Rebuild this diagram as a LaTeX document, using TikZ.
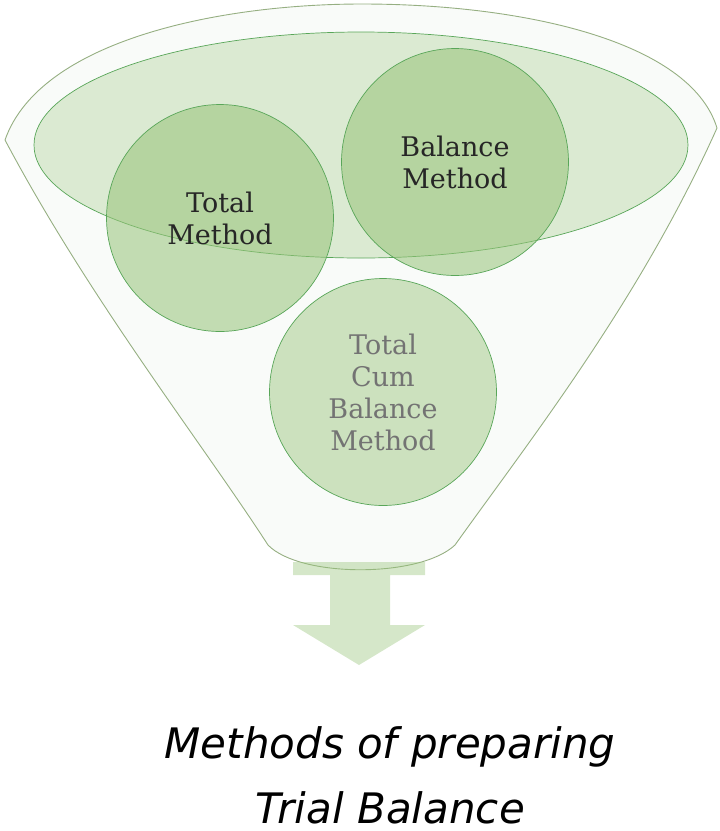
\documentclass[tikz,border=0pt]{standalone}
\usepackage{fontspec}
\setmainfont{DejaVu Sans}
\newfontfamily\slab{DejaVu Serif}
\begin{document}
\begin{tikzpicture}[x=1pt,y=-1pt]
\definecolor{gfill}{RGB}{150,195,120}
\definecolor{gline}{RGB}{150,175,130}
\tikzset{circ/.style={circle,minimum size=227pt,fill=gfill,fill opacity=0.55,draw=gray!70!green,line width=0.7pt,text opacity=1,align=center,font=\slab\fontsize{27}{32}\selectfont},
funnel/.style={draw=gline,line width=0.9pt}}
\useasboundingbox (0,0) rectangle (720,831);
\draw[funnel,fill=green!20!gray!4] (5,140) .. controls (40,40) and (220,4) .. (362,4)
  .. controls (520,4) and (690,40) .. (717,128)
  .. controls (640,300) and (530,440) .. (455,545)
  .. controls (420,578) and (300,578) .. (268,545)
  .. controls (200,440) and (90,300) .. (5,140) -- cycle;
\draw[draw=gray!70!green,line width=0.7pt,fill=gfill,fill opacity=0.3] (361,145) ellipse [x radius=327, y radius=113];
\node[circ,text=black!85] (tm) at (220,218) {Total\\Method};
\node[circ,text=black!85] (bm) at (455,162) {Balance\\Method};
\node[circ,text=black!55,fill opacity=0.45] (tcb) at (383,392) {Total\\Cum\\Balance\\Method};
\fill[gfill,opacity=0.4] (293,562) -- (425,562) -- (425,575) -- (390,575) -- (390,625) -- (425,625) -- (359,665) -- (293,625) -- (330,625) -- (330,575) -- (293,575) -- cycle;
\node[font=\fontsize{42}{46}\selectfont\itshape] (t1) at (390,747) {Methods of preparing};
\node[font=\fontsize{42}{46}\selectfont\itshape] (t2) at (390,808) {Trial Balance};
\end{tikzpicture}
\end{document}
